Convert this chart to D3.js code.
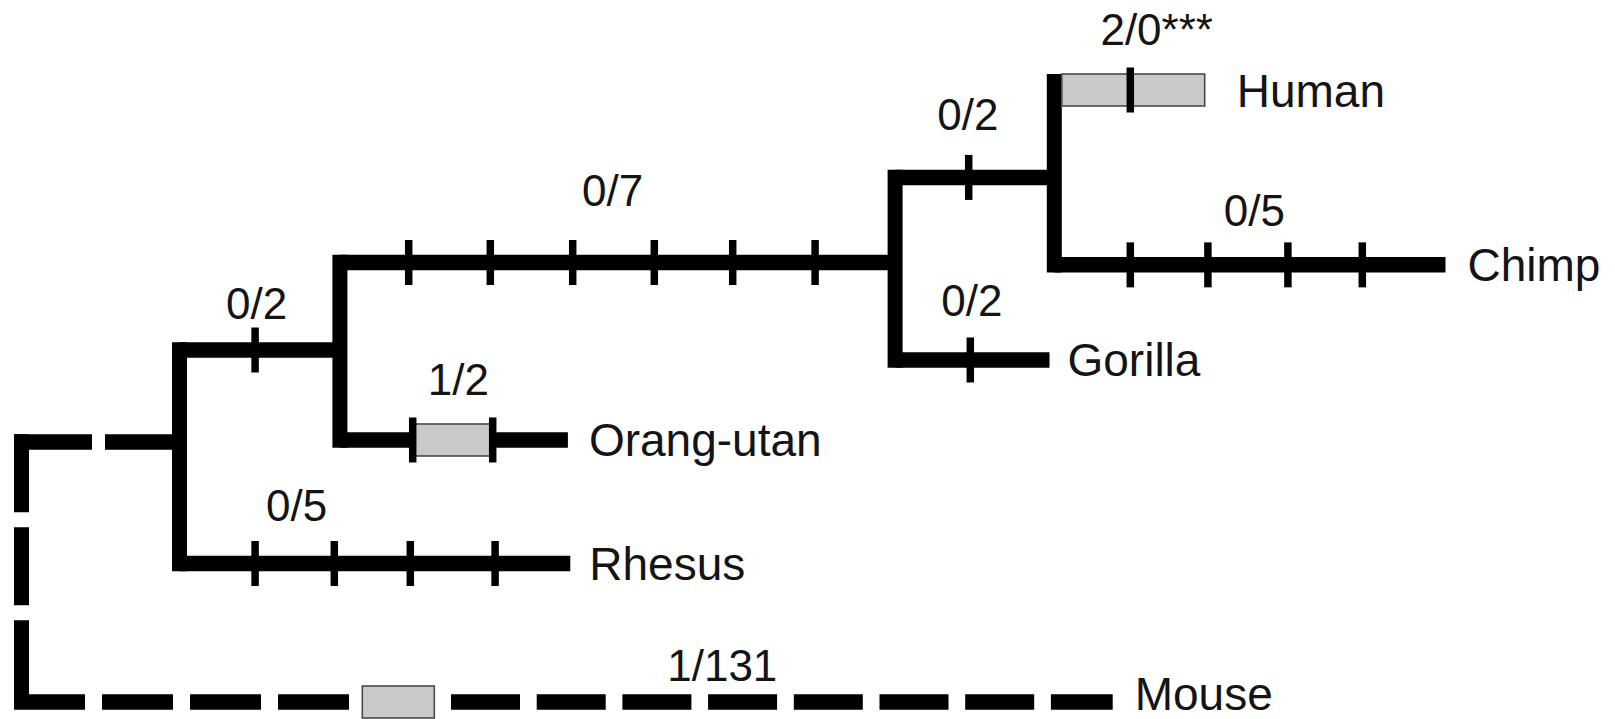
<!DOCTYPE html>
<html>
<head>
<meta charset="utf-8">
<script src="https://cdn.jsdelivr.net/npm/d3@7"></script>
<style>
  html, body { margin: 0; padding: 0; background: #fff; }
  svg { display: block; }
  text { font-family: "Liberation Sans", Arial, Helvetica, sans-serif; fill: #141414; }
</style>
</head>
<body>
<svg id="tree" width="1615" height="719"></svg>
<script>
// Tree topology: each node and its parent
const nodeIds   = ["root", "A", "B", "C", "D", "Human", "Chimp", "Gorilla", "Orang-utan", "Rhesus", "Mouse"];
const parentIds = [null, "root", "A", "B", "C", "D", "D", "C", "B", "A", "root"];
// Cumulative branch length (in amino-acid change units) from the root
const depth = [0, 1.975, 3.98, 10.92, 12.91, 14.79, 17.8, 12.85, 6.83, 6.86, 13.64];
// Vertical row of the branch leading into each node
const row   = [null, 4.026, 2.974, 1.973, 1.0, 0, 2.0, 3.088, 4.003, 5.416, 7];
// Replacement counts (nonsynonymous / synonymous) on each branch
const counts = [null, null, "0/2", "0/7", "0/2", "2/0***", "0/5", "0/2", "1/2", "0/5", "1/131"];
// Change marks along each branch
const changeMarks = {
  "B": [2.92],
  "C": [4.84, 5.86, 6.89, 7.91, 8.89, 9.92],
  "D": [11.84],
  "Human": [13.86],
  "Chimp": [13.86, 14.83, 15.83, 16.76],
  "Gorilla": [11.86],
  "Orang-utan": [4.89, 5.89],
  "Rhesus": [2.92, 3.91, 4.86, 5.92]
};
// Shaded segments (amino-acid changes)
const shaded = {
  "Human": [12.91, 14.79],
  "Orang-utan": [4.92, 5.87],
  "Mouse": [4.26, 5.16]
};

// Layout of the count labels: centre x and baseline row
const countLabelX   = {"B": 2.94, "C": 7.39, "D": 11.83, "Human": 14.19, "Chimp": 15.41, "Gorilla": 11.88, "Orang-utan": 5.46, "Rhesus": 3.44, "Mouse": 8.76};
const countLabelRow = {"B": 2.619, "C": 1.327, "D": 0.4575, "Human": -0.515, "Chimp": 1.556, "Gorilla": 2.585, "Orang-utan": 3.489, "Rhesus": 4.93, "Mouse": 6.76};
const leafGap = {"Human": 32, "Chimp": 22, "Gorilla": 18, "Orang-utan": 21, "Rhesus": 19, "Mouse": 22};
const leafBaseline = {"Mouse": 8};

const svg = d3.select("#tree");
const x = d3.scaleLinear().domain([0, 20]).range([21.5, 1621.5]);
const y = d3.scaleLinear().domain([0, 7]).range([90, 702]);

const SW = 15.5;       // branch stroke width
const VW = 15;         // vertical connector width
const BOX_H = 32;      // shaded box height
const TICK_H = 45, TICK_W = 7.5;

const nodes = nodeIds.map((id, i) => ({id, parent: parentIds[i], depth: depth[i], row: row[i], count: counts[i]}));
const byId = Object.fromEntries(nodes.map(n => [n.id, n]));
nodes.forEach(n => { n.children = nodes.filter(c => c.parent === n.id); });

const gLines = svg.append("g");
const gBoxes = svg.append("g");
const gTicks = svg.append("g");
const gText  = svg.append("g");

// half-thickness of the branch drawn at a node's row
const halfThick = n => n.id === "Human" ? BOX_H / 2 : SW / 2;

// Vertical connectors at internal nodes
nodes.filter(n => n.children.length).forEach(n => {
  const top = d3.min(n.children, c => y(c.row) - halfThick(c));
  const bot = d3.max(n.children, c => y(c.row) + halfThick(c));
  const p = gLines.append("line")
    .attr("x1", x(n.depth)).attr("x2", x(n.depth))
    .attr("y1", top).attr("y2", bot)
    .attr("stroke", "#000").attr("stroke-width", VW);
  if (n.id === "root") p.attr("stroke-dasharray", "78,15");
});

// Horizontal branches
nodes.filter(n => n.parent).forEach(n => {
  const par = byId[n.parent];
  const yy = y(n.row);
  if (n.id === "Human") return; // drawn entirely as a shaded box
  if (n.id === "A") {
    gLines.append("line")
      .attr("x1", x(par.depth) - VW / 2).attr("x2", x(n.depth))
      .attr("y1", yy).attr("y2", yy)
      .attr("stroke", "#000").attr("stroke-width", SW)
      .attr("stroke-dasharray", "78,13");
    return;
  }
  if (n.id === "Mouse") {
    const [b0, b1] = shaded.Mouse;
    gLines.append("line")
      .attr("x1", x(par.depth) - VW / 2).attr("x2", x(b0))
      .attr("y1", yy).attr("y2", yy)
      .attr("stroke", "#000").attr("stroke-width", SW)
      .attr("stroke-dasharray", "71,17");
    gLines.append("line")
      .attr("x1", x(b1)).attr("x2", x(n.depth))
      .attr("y1", yy).attr("y2", yy)
      .attr("stroke", "#000").attr("stroke-width", SW)
      .attr("stroke-dasharray", "69,16.7").attr("stroke-dashoffset", 69);
    return;
  }
  gLines.append("line")
    .attr("x1", x(par.depth)).attr("x2", x(n.depth))
    .attr("y1", yy).attr("y2", yy)
    .attr("stroke", "#000").attr("stroke-width", SW);
});

// Shaded boxes
Object.entries(shaded).forEach(([id, [a, b]]) => {
  const n = byId[id];
  const x0 = id === "Human" ? x(a) + VW / 2 : x(a);
  gBoxes.append("rect")
    .attr("x", x0).attr("y", y(n.row) - BOX_H / 2)
    .attr("width", x(b) - x0).attr("height", BOX_H)
    .attr("fill", "#c9c9c9").attr("stroke", "#4a4a4a").attr("stroke-width", 1.6);
});

// Change marks
Object.entries(changeMarks).forEach(([id, marks]) => {
  const n = byId[id];
  gTicks.selectAll(null).data(marks).join("line")
    .attr("x1", d => x(d)).attr("x2", d => x(d))
    .attr("y1", y(n.row) - TICK_H / 2).attr("y2", y(n.row) + TICK_H / 2)
    .attr("stroke", "#000").attr("stroke-width", TICK_W);
});

// Count labels
nodes.filter(n => n.count).forEach(n => {
  gText.append("text")
    .attr("x", x(countLabelX[n.id])).attr("y", y(countLabelRow[n.id]))
    .attr("text-anchor", "middle")
    .attr("font-size", 44)
    .text(n.count);
});

// Leaf labels
nodes.filter(n => !n.children.length).forEach(n => {
  gText.append("text")
    .attr("x", x(n.depth) + leafGap[n.id])
    .attr("y", y(n.row) + (leafBaseline[n.id] ?? 16.5))
    .attr("font-size", 46)
    .text(n.id);
});
</script>
</body>
</html>
